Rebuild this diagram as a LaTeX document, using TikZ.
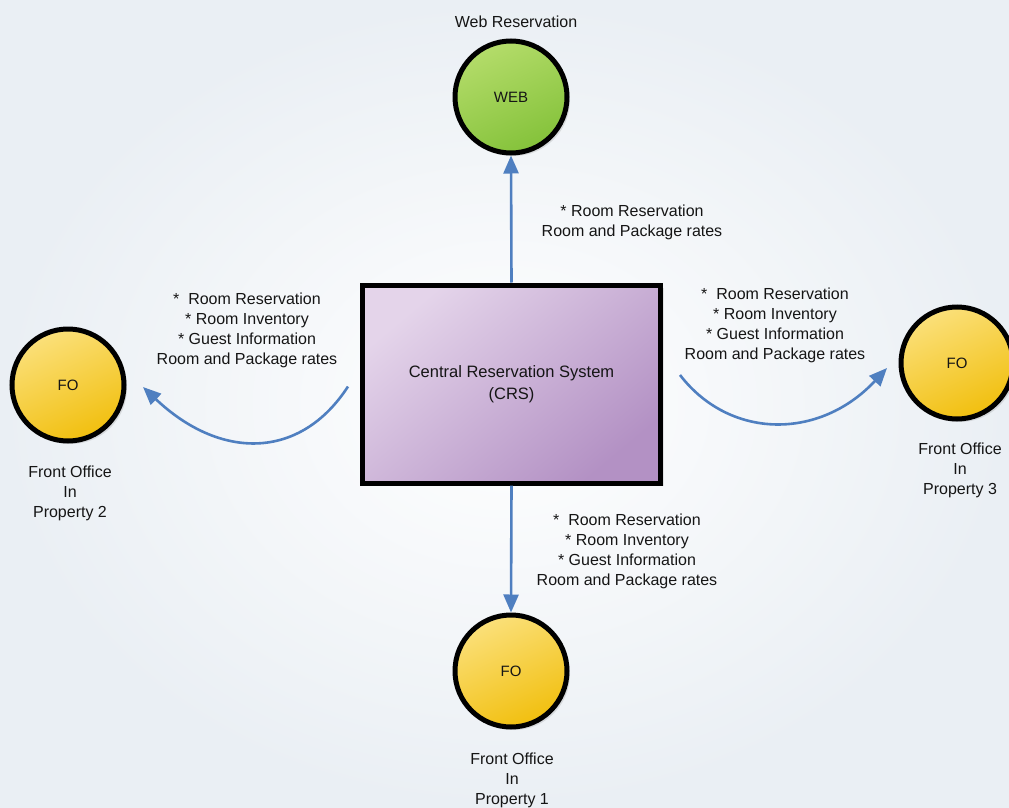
\documentclass[tikz,border=0pt]{standalone}
\usepackage{fontspec}
\setmainfont{Liberation Sans}
\usetikzlibrary{arrows.meta,shadows}

\definecolor{flowblue}{HTML}{4F7FC0}
\definecolor{webtop}{HTML}{B4DC6A}
\definecolor{webbottom}{HTML}{84C23A}
\definecolor{fotop}{HTML}{FBE07A}
\definecolor{fobottom}{HTML}{F1BF0E}
\definecolor{crstop}{HTML}{E4D4EA}
\definecolor{crsbottom}{HTML}{B391C4}
\definecolor{paper}{HTML}{EAEFF4}
\definecolor{ink}{HTML}{151515}

\begin{document}
\begin{tikzpicture}[x=1pt,y=-1pt,
  every node/.style={font=\fontsize{16}{20}\selectfont, text=ink},
  station/.style={circle, draw=black, line width=5pt, minimum size=112pt, inner sep=0pt,
    font=\fontsize{15}{18}\selectfont,
    drop shadow={shadow xshift=3pt, shadow yshift=-3pt, opacity=0.18, fill=black!60}},
  webstation/.style={station, top color=webtop, bottom color=webbottom, shading angle=25},
  fostation/.style={station, top color=fotop, bottom color=fobottom, shading angle=25},
  crsbox/.style={rectangle, draw=black, line width=5pt, minimum width=298pt, minimum height=198pt,
    top color=crstop, bottom color=crsbottom, shading angle=40, align=center,
    font=\fontsize{16.5}{22}\selectfont,
    drop shadow={shadow xshift=3pt, shadow yshift=-3pt, opacity=0.15, fill=black!60}},
  flow/.style={draw=flowblue, line width=2.6pt, -{Triangle[length=18pt,width=15pt]}},
  info/.style={align=center}]

% background
\useasboundingbox (0,0) rectangle (1009,808);
\fill[inner color=white, outer color=paper] (0,0) rectangle (1009,808);

% central system and the stations round it
\node[crsbox] (crs) at (511.5,384) {Central Reservation System\\(CRS)};
\node[webstation] (web) at (511,97) {WEB};
\node[fostation] (fo1) at (511,671) {FO};
\node[fostation] (fo2) at (68,385) {FO};
\node[fostation] (fo3) at (957,363) {FO};

% station names
\node[info] (webname) at (516,22) {Web Reservation};
\node[info] (fo1name) at (512,780) {Front Office\\In\\Property 1};
\node[info] (fo2name) at (70,493) {Front Office\\In\\Property 2};
\node[info] (fo3name) at (960,470) {Front Office\\In\\Property 3};

% data flows
\draw[flow] (crs.north) -- (web.south);
\draw[flow] (crs.south) -- (fo1.north);
\draw[flow] ([xshift=-12pt,yshift=-2.5pt]crs.west) .. controls +(-48,74) and +(77,73) .. ([xshift=16.5pt,yshift=-2pt]fo2.east);
\draw[flow] ([xshift=17pt,yshift=9pt]crs.east) .. controls +(50,65) and +(-67,72) .. ([xshift=-11.5pt,yshift=-5pt]fo3.west);

% what each flow carries
\node[info] (webdata) at (632,222) {* Room Reservation\\Room and Package rates};
\node[info] (fo2data) at (247,330) {*~~Room Reservation\\* Room Inventory\\* Guest Information\\Room and Package rates};
\node[info] (fo3data) at (775,325) {*~~Room Reservation\\* Room Inventory\\* Guest Information\\Room and Package rates};
\node[info] (fo1data) at (627,551) {*~~Room Reservation\\* Room Inventory\\* Guest Information\\Room and Package rates};

\end{tikzpicture}
\end{document}
